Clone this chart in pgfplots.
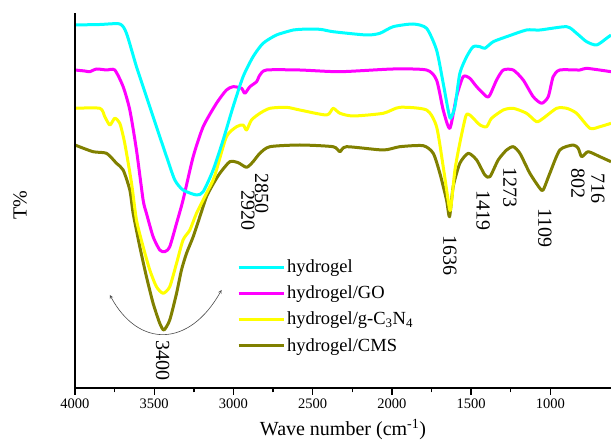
\documentclass[border=0pt]{standalone}
\usepackage{fontspec}
\setmainfont{Liberation Serif}
\usepackage{pgfplots}
\pgfplotsset{compat=1.18}
\definecolor{cCyan}{RGB}{0,255,255}
\definecolor{cMag}{RGB}{255,0,255}
\definecolor{cYel}{RGB}{255,255,0}
\definecolor{cOli}{RGB}{128,128,0}
\begin{document}
\begin{tikzpicture}
\useasboundingbox (0,0) rectangle (611pt,442pt);
\begin{axis}[
  at={(75pt,54pt)}, anchor=south west,
  scale only axis, width=536pt, height=375pt,
  x dir=reverse, xmin=617, xmax=4000, ymin=0, ymax=375,
  axis x line*=bottom, axis y line=none,
  x axis line style={line width=1.6pt},
  xtick={1000,1500,2000,2500,3000,3500,4000},
  minor x tick num=1,
  ytick=\empty,
  tick align=outside,
  major tick length=7pt, minor tick length=4.5pt,
  every tick/.style={line width=1.4pt, black},
  /pgf/number format/assume math mode=true,
  /pgf/number format/set thousands separator={},
  xticklabel style={font=\fontsize{14.5}{17}\selectfont},
  xlabel={Wave number (cm\textsuperscript{-1})},
  xlabel style={font=\fontsize{20}{24}\selectfont, yshift=-4pt},
  clip=true,
  legend style={draw=none, fill=none, at={(0.302,0.347)}, anchor=north west,
    font=\fontsize{18.5}{20}\selectfont, row sep=7.7pt, inner sep=0pt,
    nodes={inner sep=2pt}},
  legend cell align=left,
  reverse legend,
  legend image code/.code={\draw[#1] (0pt,0pt) -- (45pt,0pt);},
  every axis plot/.append style={line width=3pt, line join=round, smooth, tension=0.4},
  after end axis/.code={\draw[line width=1.6pt] (axis description cs:0,0) -- (axis description cs:0,1);},
]
\addplot[cOli] coordinates {(4000,243) (3886,236.3) (3801,234.7) (3738,224.7) (3696,218) (3654,198) (3633,174.7) (3591,141.3) (3549,111.3) (3507,84.7) (3465,64.7) (3439,58) (3402,68) (3359,94.7) (3328,118) (3296,134.7) (3254,151.3) (3212,171.3) (3170,191.3) (3128,204) (3086,214.7) (3023,226.3) (2970,225.3) (2917,220.7) (2876,226.3) (2833,234.7) (2770,241.3) (2581,243) (2371,241.3) (2328,236.3) (2286,241.3) (2055,238) (1950,241.3) (1802,242.3) (1739,234.7) (1697,214.7) (1655,188) (1636,171.3) (1613,201.3) (1571,224.7) (1518,234.7) (1465,228) (1413,213) (1381,211.3) (1329,228) (1276,238) (1234,241.3) (1192,234.7) (1129,214.7) (1066,199.7) (1045,198) (1003,214.7) (940,238) (856,243) (824,239.7) (802,231.3) (761,236.3) (687,231.3) (617,226.3)};
\addlegendentry{hydrogel/CMS}
\addplot[cYel] coordinates {(4000,279.7) (3843,279.7) (3812,271.3) (3780,263) (3749,269.7) (3717,264.7) (3686,244.7) (3643,204.7) (3612,168) (3570,141.3) (3528,118) (3486,101.3) (3444,94.7) (3402,101.3) (3359,124.7) (3318,148) (3275,158) (3233,174.7) (3170,194.7) (3128,208) (3107,218) (3044,251.3) (2980,261.3) (2939,263) (2917,258) (2886,268) (2833,274.7) (2770,279.7) (2665,280.7) (2581,278) (2412,273) (2371,279.7) (2328,274.7) (2244,272) (2055,274.7) (1950,280.7) (1781,278) (1718,261.3) (1676,221.3) (1645,188) (1630,178) (1602,218) (1571,245) (1533,272) (1508,273) (1444,263) (1402,261.3) (1371,269.7) (1297,278) (1234,279.7) (1150,274.7) (1087,266.3) (1045,269.7) (960,279.7) (897,279.7) (834,274.7) (750,259.7) (687,261.3) (617,264.7)};
\addlegendentry{hydrogel/g-C\textsubscript{3}N\textsubscript{4}}
\addplot[cMag] coordinates {(4000,318) (3938,317) (3907,316.3) (3864,319) (3801,318) (3749,318) (3696,301.3) (3654,278) (3612,238) (3570,188) (3549,174.7) (3507,151.3) (3465,138) (3433,136.3) (3402,141.3) (3359,164.7) (3318,188) (3254,231.3) (3191,261.3) (3107,284.7) (3044,298) (3002,301.3) (2949,299.7) (2928,294.7) (2896,301.3) (2854,306.3) (2833,313) (2791,318) (2581,318) (2328,316.3) (1992,319) (1781,318) (1718,308) (1676,278) (1634,259.7) (1592,291.3) (1550,311.3) (1508,309.7) (1465,301.3) (1402,291.3) (1381,293) (1339,308) (1297,318) (1234,318) (1171,308) (1108,291.3) (1055,284.7) (1013,291.3) (982,311.3) (940,318) (813,318) (771,319.7) (617,316.3)};
\addlegendentry{hydrogel/GO}
\addplot[cCyan] coordinates {(4000,363) (3843,363.5) (3717,364) (3675,354.7) (3612,321.3) (3549,291.3) (3486,261.3) (3422,231.3) (3370,208) (3318,198) (3233,193) (3191,196.3) (3128,218) (3065,248) (3002,281.3) (2939,311.3) (2876,331.3) (2813,344.7) (2728,353) (2623,358) (2581,358.7) (2455,358.7) (2371,356.3) (2160,353) (2076,354.7) (1992,361.3) (1866,364) (1781,359.7) (1718,338) (1676,304.7) (1645,278) (1630,269.7) (1602,281.3) (1571,314.7) (1528,331.3) (1487,341.3) (1444,341.3) (1413,339.7) (1360,346.3) (1276,351.3) (1150,358) (1066,358) (897,361.3) (834,354.7) (771,346.3) (708,343) (645,349.7) (617,353)};
\addlegendentry{hydrogel}
\begin{scope}[every node/.style={rotate=-90, anchor=west, inner sep=0pt, font=\fontsize{20}{24}\selectfont}]
\node at (axis cs:2821,215) {2850};
\node at (axis cs:2909,198) {2920};
\node at (axis cs:1634,153) {1636};
\node at (axis cs:1424,198) {1419};
\node at (axis cs:1255,221) {1273};
\node at (axis cs:1034,180) {1109};
\node at (axis cs:826,220) {802};
\node at (axis cs:700,215) {716};
\node at (axis cs:3446,48) {3400};
\end{scope}
\draw[gray!60!black, line width=0.6pt, <->, >=stealth] (axis cs:3780,93) .. controls (axis cs:3600,40) and (axis cs:3280,40) .. (axis cs:3075,98);
\end{axis}
\node[rotate=90, font=\fontsize{20}{24}\selectfont] at (20pt,237pt) {T\%};
\end{tikzpicture}
\end{document}
